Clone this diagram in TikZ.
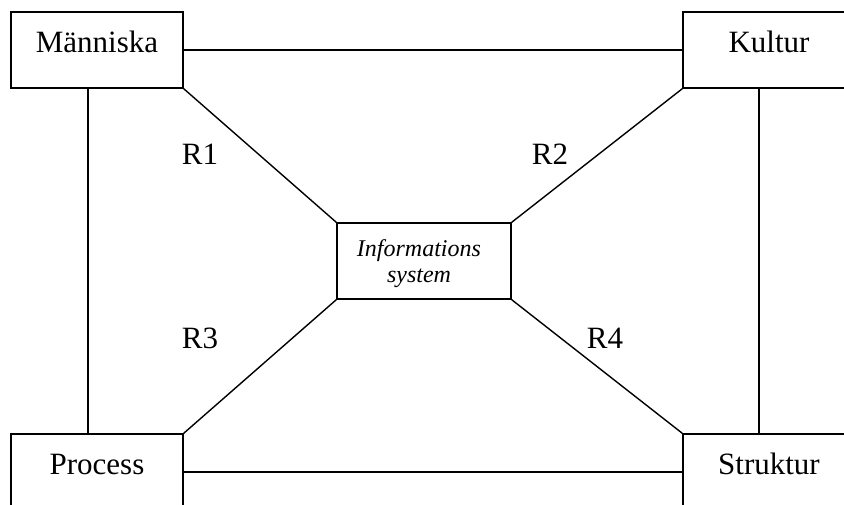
\documentclass[tikz,border=0pt]{standalone}
\usepackage{fontspec}
\setmainfont{Liberation Serif}
\usepackage{tikz}

\begin{document}
\begin{tikzpicture}[x=1pt,y=-1pt,line width=1.4pt,
    box/.style={rectangle,draw,minimum width=172,minimum height=76,inner sep=0,
      font=\fontsize{31}{37}\selectfont,text height=21pt,text depth=16pt},
    lab/.style={anchor=base,font=\fontsize{31}{37}\selectfont}]
  \useasboundingbox (0,0) rectangle (844,504);
  \clip (0,0) rectangle (844,504);

  \node[box] (manniska) at (97,50) {Människa};
  \node[box] (kultur) at (769,50) {Kultur};
  \node[box] (process) at (97,472) {Process};
  \node[box] (struktur) at (769,472) {Struktur};

  % the middle box, its two lines set a little left of centre
  \node[rectangle,draw,minimum width=174,minimum height=76,inner sep=0] (is) at (424,261) {};
  \node[align=center,inner sep=0,font=\fontsize{24}{26}\selectfont\itshape]
    (istext) at (419,264) {Informations\\system};

  \draw (manniska.east) -- (kultur.west);
  \draw (process.east) -- (struktur.west);
  \draw ([xshift=-9]manniska.south) -- ([xshift=-9]process.north);
  \draw ([xshift=-10]kultur.south) -- ([xshift=-10]struktur.north);

  \draw (manniska.south east) -- (is.north west);
  \draw (kultur.south west) -- (is.north east);
  \draw (process.north east) -- (is.south west);
  \draw (struktur.north west) -- (is.south east);

  \node[lab] (r1) at (200,164) {R1};
  \node[lab] (r2) at (550,164) {R2};
  \node[lab] (r3) at (200,348) {R3};
  \node[lab] (r4) at (605,348) {R4};
\end{tikzpicture}
\end{document}
